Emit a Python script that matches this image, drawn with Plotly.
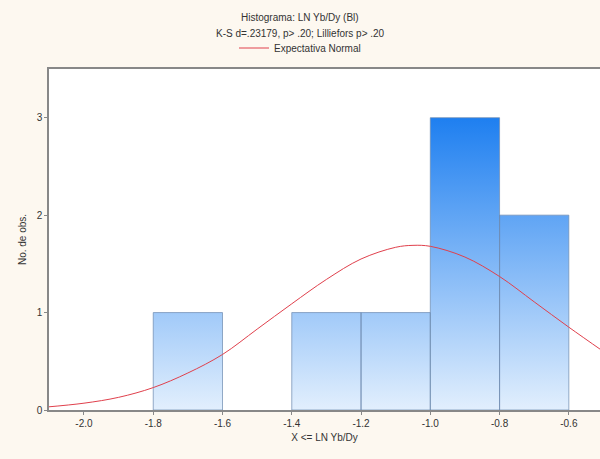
import plotly.graph_objects as go

# Data
bin_left = [-1.8, -1.4, -1.2, -1.0, -0.8]
bin_right = [-1.6, -1.2, -1.0, -0.8, -0.6]
counts = [1, 1, 1, 3, 2]

curve_x = [-2.11, -2.0, -1.9, -1.8, -1.7, -1.6, -1.5, -1.4, -1.3, -1.2, -1.1,
           -1.05, -1.0, -0.9, -0.8, -0.7, -0.6, -0.5]
curve_y = [0.03, 0.07, 0.13, 0.23, 0.38, 0.57, 0.83, 1.09, 1.34, 1.55, 1.67,
           1.69, 1.68, 1.57, 1.37, 1.11, 0.85, 0.60]

x_ticks = [-2.0, -1.8, -1.6, -1.4, -1.2, -1.0, -0.8, -0.6]
y_ticks = [0, 1, 2, 3]

title_lines = ["Histograma: LN Yb/Dy (Bl)", "K-S d=.23179, p> .20; Lilliefors p> .20"]

fig = go.Figure()

# bars as filled polygons with vertical gradient on absolute y scale
px, py = [], []
for l, r, c in zip(bin_left, bin_right, counts):
    px += [l, l, r, r, l, None]
    py += [0, c, c, 0, 0, None]

fig.add_trace(go.Scatter(
    x=px, y=py, mode="lines", fill="toself",
    line=dict(color="rgba(110,140,175,0.9)", width=0.8),
    fillgradient=dict(type="vertical", start=0, stop=3,
                      colorscale=[[0, "#e2effd"], [1, "#1e7ff0"]]),
    showlegend=False, hoverinfo="skip"))

fig.add_trace(go.Scatter(
    x=curve_x, y=curve_y, mode="lines", line=dict(color="#e0404c", width=1, shape="spline"),
    name="Expectativa Normal", showlegend=True))

for i, t in enumerate(title_lines):
    fig.add_annotation(text=t, xref="paper", yref="paper",
                       x=(300 - 49) / 551, y=1 + (69 - (18 + 15 * i)) / 341,
                       xanchor="center", yanchor="middle", showarrow=False,
                       font=dict(size=10, color="#333333"))

fig.update_layout(
    width=600, height=459,
    paper_bgcolor="#fdf8f0", plot_bgcolor="#ffffff",
    margin=dict(l=49, r=0, t=69, b=49, autoexpand=False),
    font=dict(family="Liberation Sans, Arial", size=10, color="#333333"),
    legend=dict(xref="container", yref="container", x=0.5, xanchor="center",
                y=1 - 48 / 459, yanchor="middle", bgcolor="rgba(0,0,0,0)",
                font=dict(size=10, color="#333333"), itemwidth=30),
    showlegend=True,
)

fig.update_xaxes(range=[-2.101, -0.51], tickvals=x_ticks,
                 ticktext=[f"{v:.1f}" for v in x_ticks],
                 showgrid=False, zeroline=False, showline=True, linecolor="#888888",
                 linewidth=1.5, mirror=True, ticks="outside", ticklen=3, tickcolor="#888888",
                 title=dict(text="X <= LN Yb/Dy", standoff=6, font=dict(size=10)))
fig.update_yaxes(range=[0, 3.5], tickvals=y_ticks,
                 showgrid=False, zeroline=False, showline=True, linecolor="#888888",
                 linewidth=1.5, mirror=True, ticks="outside", ticklen=3, tickcolor="#888888",
                 title=dict(text="No. de obs.", standoff=8, font=dict(size=10)))

fig.write_html("out.html")
